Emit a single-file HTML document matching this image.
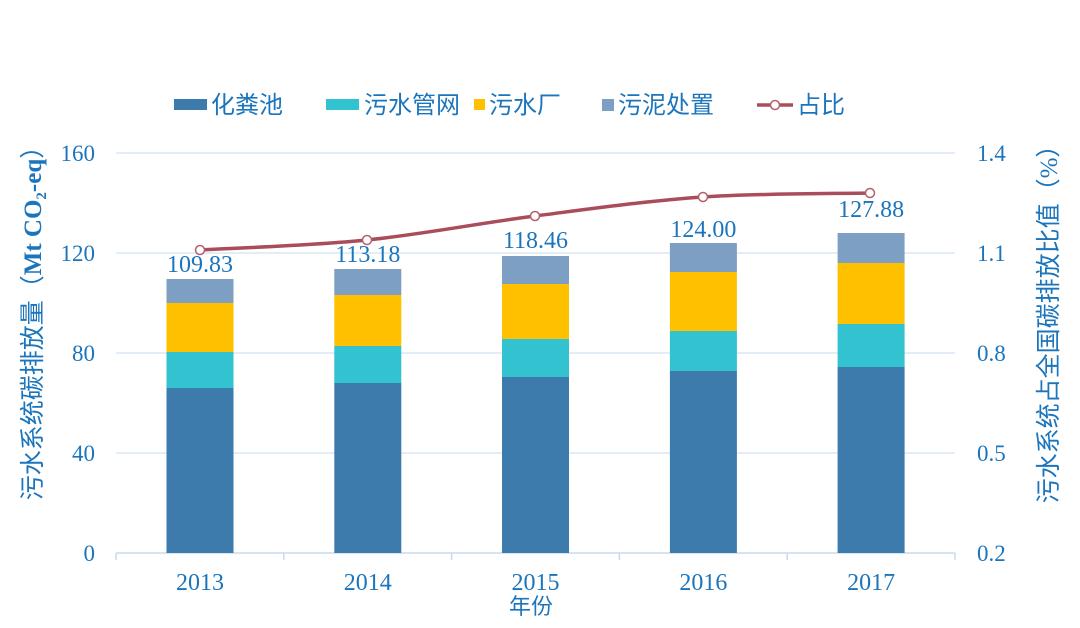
<!DOCTYPE html>
<html>
<head>
<meta charset="utf-8">
<style>
  html, body { margin: 0; padding: 0; background: #ffffff; }
  svg { display: block; }
  .num { font-family: "Liberation Serif", "Noto Serif CJK SC", serif; fill: #1b75bc; }
  .cjk { font-family: "Liberation Sans", "Noto Sans CJK SC", sans-serif; fill: #1b75bc; }
</style>
</head>
<body>
<svg width="1080" height="628" viewBox="0 0 1080 628" xmlns="http://www.w3.org/2000/svg">
  <rect x="0" y="0" width="1080" height="628" fill="#ffffff"/>

  <!-- gridlines -->
  <g stroke="#d8e7f5" stroke-width="1.5">
    <line x1="116" y1="153" x2="955" y2="153"/>
    <line x1="116" y1="253" x2="955" y2="253"/>
    <line x1="116" y1="353" x2="955" y2="353"/>
    <line x1="116" y1="453" x2="955" y2="453"/>
  </g>
  <!-- x axis -->
  <g stroke="#c6dbef" stroke-width="1.5">
    <line x1="116" y1="553" x2="955" y2="553"/>
    <line x1="116" y1="553" x2="116" y2="560"/>
    <line x1="283.8" y1="553" x2="283.8" y2="560"/>
    <line x1="451.6" y1="553" x2="451.6" y2="560"/>
    <line x1="619.4" y1="553" x2="619.4" y2="560"/>
    <line x1="787.2" y1="553" x2="787.2" y2="560"/>
    <line x1="955" y1="553" x2="955" y2="560"/>
  </g>

  <!-- bars -->
  <rect x="166.5" y="388" width="67" height="165" fill="#3e7bad"/>
  <rect x="166.5" y="352" width="67" height="36" fill="#33c2d0"/>
  <rect x="166.5" y="303" width="67" height="49" fill="#ffc000"/>
  <rect x="166.5" y="279" width="67" height="24" fill="#7e9fc4"/>

  <rect x="334.3" y="383" width="67" height="170" fill="#3e7bad"/>
  <rect x="334.3" y="346" width="67" height="37" fill="#33c2d0"/>
  <rect x="334.3" y="295" width="67" height="51" fill="#ffc000"/>
  <rect x="334.3" y="269" width="67" height="26" fill="#7e9fc4"/>

  <rect x="502" y="377" width="67" height="176" fill="#3e7bad"/>
  <rect x="502" y="339" width="67" height="38" fill="#33c2d0"/>
  <rect x="502" y="284" width="67" height="55" fill="#ffc000"/>
  <rect x="502" y="256" width="67" height="28" fill="#7e9fc4"/>

  <rect x="669.9" y="371" width="67" height="182" fill="#3e7bad"/>
  <rect x="669.9" y="331" width="67" height="40" fill="#33c2d0"/>
  <rect x="669.9" y="272" width="67" height="59" fill="#ffc000"/>
  <rect x="669.9" y="243" width="67" height="29" fill="#7e9fc4"/>

  <rect x="837.6" y="367" width="67" height="186" fill="#3e7bad"/>
  <rect x="837.6" y="324" width="67" height="43" fill="#33c2d0"/>
  <rect x="837.6" y="263" width="67" height="61" fill="#ffc000"/>
  <rect x="837.6" y="233" width="67" height="30" fill="#7e9fc4"/>

  <!-- data labels -->
  <g class="num" font-size="24" text-anchor="middle">
    <text x="200" y="272">109.83</text>
    <text x="367.8" y="262">113.18</text>
    <text x="535.5" y="248">118.46</text>
    <text x="703.4" y="237">124.00</text>
    <text x="871.1" y="217">127.88</text>
  </g>

  <!-- line -->
  <path d="M200,250 C227.8,248.3 311.2,245.7 367,240 C422.8,234.3 479,223.2 535,216 C591,208.8 647.2,200.8 703,197 C758.8,193.2 842.2,193.7 870,193"
        fill="none" stroke="#a94d5c" stroke-width="3.5" stroke-linecap="round"/>
  <g fill="#ffffff" stroke="#b45f6c" stroke-width="1.5">
    <circle cx="200" cy="250" r="4.5"/>
    <circle cx="367" cy="240" r="4.5"/>
    <circle cx="535" cy="216" r="4.5"/>
    <circle cx="703" cy="197" r="4.5"/>
    <circle cx="870" cy="193" r="4.5"/>
  </g>

  <!-- left y axis labels -->
  <g class="num" font-size="23" text-anchor="end">
    <text x="95" y="161">160</text>
    <text x="95" y="261">120</text>
    <text x="95" y="361">80</text>
    <text x="95" y="461">40</text>
    <text x="95" y="561">0</text>
  </g>
  <!-- right y axis labels -->
  <g class="num" font-size="23" text-anchor="start">
    <text x="977" y="161">1.4</text>
    <text x="977" y="261">1.1</text>
    <text x="977" y="361">0.8</text>
    <text x="977" y="461">0.5</text>
    <text x="977" y="561">0.2</text>
  </g>

  <!-- x labels -->
  <g class="num" font-size="24" text-anchor="middle">
    <text x="200" y="590">2013</text>
    <text x="367.8" y="590">2014</text>
    <text x="535.5" y="590">2015</text>
    <text x="703.4" y="590">2016</text>
    <text x="871.1" y="590">2017</text>
  </g>
  <text class="cjk" x="531" y="614" font-size="22" text-anchor="middle">年份</text>

  <!-- left axis title -->
  <text transform="translate(41,317) rotate(-90)" text-anchor="middle" font-size="25" class="cjk">污水系统碳排放量（<tspan font-family="Liberation Serif, serif" font-weight="bold">Mt CO<tspan font-size="15" dy="5">2</tspan><tspan dy="-5">-eq</tspan></tspan>）</text>

  <!-- right axis title -->
  <text transform="translate(1057,318) rotate(-90)" text-anchor="middle" font-size="25" class="cjk">污水系统占全国碳排放比值（<tspan font-family="Liberation Serif, serif">%</tspan>）</text>

  <!-- legend -->
  <rect x="174" y="99" width="33" height="11" fill="#3e7bad"/>
  <text class="cjk" x="211" y="113" font-size="24">化粪池</text>
  <rect x="326" y="99" width="33" height="11" fill="#33c2d0"/>
  <text class="cjk" x="364" y="113" font-size="24">污水管网</text>
  <rect x="474" y="99" width="11" height="11" fill="#ffc000"/>
  <text class="cjk" x="489" y="113" font-size="24">污水厂</text>
  <rect x="602" y="99" width="12" height="12" fill="#7e9fc4"/>
  <text class="cjk" x="618" y="113" font-size="24">污泥处置</text>
  <line x1="757" y1="105" x2="793" y2="105" stroke="#a94d5c" stroke-width="3.5"/>
  <circle cx="775" cy="105" r="4.5" fill="#ffffff" stroke="#b45f6c" stroke-width="1.5"/>
  <text class="cjk" x="797" y="113" font-size="24">占比</text>
</svg>
</body>
</html>
